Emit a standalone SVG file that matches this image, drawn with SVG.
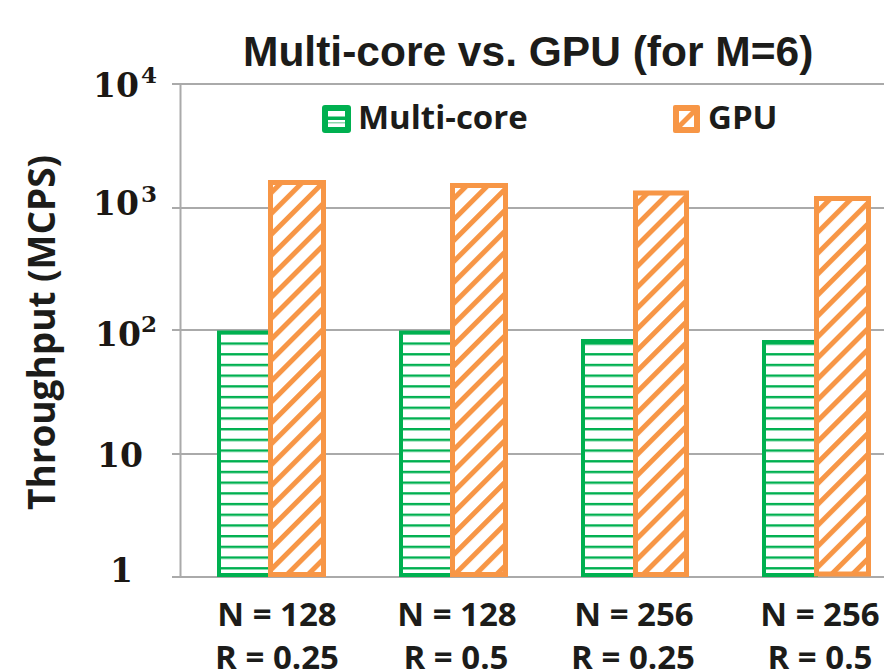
<svg xmlns="http://www.w3.org/2000/svg" width="884" height="671" viewBox="0 0 884 671">
  <style>
    .title { font-family: "Liberation Sans", Arial, sans-serif; font-weight: bold; font-size: 42.5px; fill: #1c1c1a; }
    .lbl { font-family: "Open Sans", "Liberation Sans", sans-serif; font-weight: bold; fill: #1c1c1a; }
    .tick { font-family: "DejaVu Serif", "Liberation Serif", serif; font-weight: bold; font-size: 33px; fill: #1c1814; }
    .sup { font-family: "DejaVu Serif", "Liberation Serif", serif; font-weight: bold; font-size: 23px; fill: #1c1814; }
    .grid { stroke: #aaaaaa; stroke-width: 2; fill: none; }
    .mc { fill: url(#hstripe); stroke: #00b050; stroke-width: 4; }
    .gpu { fill: url(#dstripe); stroke: #f79646; stroke-width: 5; }
  </style>
  <defs>
    <!-- horizontal stripes for the multi-core series -->
    <pattern id="hstripe" patternUnits="userSpaceOnUse" width="10" height="10.7">
      <rect width="10" height="10.7" fill="#ffffff"/>
      <rect y="0" width="10" height="2.4" fill="#00b050"/>
    </pattern>
    <!-- diagonal stripes for the GPU series -->
    <pattern id="dstripe" patternUnits="userSpaceOnUse" width="14.8" height="14.8" patternTransform="rotate(45)">
      <rect width="14.8" height="14.8" fill="#ffffff"/>
      <rect width="5" height="14.8" fill="#f79646"/>
    </pattern>
  </defs>

  <rect width="884" height="671" fill="#ffffff"/>

  <!-- title -->
  <g id="title">
    <text class="title" x="243" y="66">Multi-core vs. GPU (for M=6)</text>
  </g>

  <!-- grid and axis -->
  <g id="grid">
    <line class="grid" x1="172" y1="84" x2="884" y2="84"/>
    <line class="grid" x1="172" y1="208" x2="884" y2="208"/>
    <line class="grid" x1="172" y1="330" x2="884" y2="330"/>
    <line class="grid" x1="172" y1="454" x2="884" y2="454"/>
    <line class="grid" x1="172" y1="577" x2="884" y2="577"/>
    <line class="grid" x1="180.5" y1="84" x2="180.5" y2="577"/>
  </g>

  <!-- y-axis tick labels (log scale) -->
  <g id="yticks">
    <text class="tick" x="139" y="97" text-anchor="end">10</text>
    <text class="sup" x="157" y="83" text-anchor="end">4</text>
    <text class="tick" x="139" y="215" text-anchor="end">10</text>
    <text class="sup" x="157" y="201.5" text-anchor="end">3</text>
    <text class="tick" x="141" y="345.5" text-anchor="end">10</text>
    <text class="sup" x="157" y="331.5" text-anchor="end">2</text>
    <text class="tick" x="143" y="466.5" text-anchor="end">10</text>
    <text class="tick" x="133" y="581.5" text-anchor="end">1</text>
  </g>

  <!-- y-axis title -->
  <g id="ytitle">
    <text class="lbl" font-size="37" text-anchor="middle" textLength="355" lengthAdjust="spacingAndGlyphs" transform="translate(55,332.5) rotate(-90)">Throughput (MCPS)</text>
  </g>

  <!-- legend -->
  <g id="legend">
    <rect x="322" y="105" width="29" height="28" rx="3" fill="#00b050"/>
    <rect x="328" y="111" width="17" height="16" fill="#ffffff"/>
    <rect x="328" y="116.5" width="17" height="3.5" fill="#00b050"/>
    <rect x="328" y="122" width="17" height="1.5" fill="#8fd8ae"/>
    <text class="lbl" font-size="33" x="358" y="129">Multi-core</text>

    <rect x="673" y="105" width="27" height="28" rx="2" fill="#f79646"/>
    <polygon points="679,111 691,111 679,123" fill="#ffffff"/>
    <polygon points="694,115 694,127 682,127" fill="#ffffff"/>
    <text class="lbl" font-size="33" x="708" y="129">GPU</text>
  </g>

  <!-- bar groups -->
  <g id="bars-n128-r025">
    <rect class="mc" x="219" y="332.5" width="51" height="242.5"/>
    <rect class="gpu" x="270.5" y="182.5" width="53" height="392"/>
  </g>
  <g id="bars-n128-r05">
    <rect class="mc" x="401" y="332.5" width="51" height="242.5"/>
    <rect class="gpu" x="452.5" y="185.5" width="53" height="389"/>
  </g>
  <g id="bars-n256-r025">
    <rect class="mc" x="583" y="341" width="52" height="234"/>
    <rect class="gpu" x="635.5" y="193" width="51" height="381.5"/>
  </g>
  <g id="bars-n256-r05">
    <rect class="mc" x="764" y="342" width="52" height="233"/>
    <rect class="gpu" x="816.5" y="198.5" width="52" height="375.5"/>
  </g>

  <!-- category labels -->
  <g id="xlabels" font-size="33">
    <text class="lbl" x="277" y="626" text-anchor="middle">N = 128</text>
    <text class="lbl" x="277" y="669" text-anchor="middle">R = 0.25</text>
    <text class="lbl" x="457" y="626" text-anchor="middle">N = 128</text>
    <text class="lbl" x="456" y="669" text-anchor="middle">R = 0.5</text>
    <text class="lbl" x="634" y="626" text-anchor="middle">N = 256</text>
    <text class="lbl" x="633" y="669" text-anchor="middle">R = 0.25</text>
    <text class="lbl" x="820" y="626" text-anchor="middle">N = 256</text>
    <text class="lbl" x="820" y="669" text-anchor="middle">R = 0.5</text>
  </g>
</svg>
